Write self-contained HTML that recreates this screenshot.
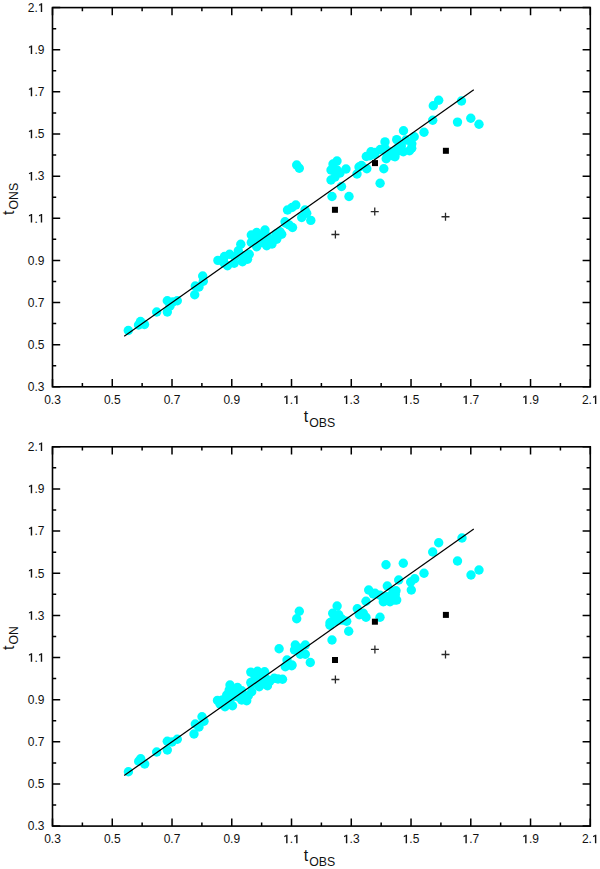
<!DOCTYPE html>
<html><head><meta charset="utf-8"><style>
html,body{margin:0;padding:0;background:#fff;}
svg{display:block;}
text{font-family:"Liberation Sans",sans-serif;font-size:12px;fill:#111;}
</style></head><body>
<svg width="600" height="869" viewBox="0 0 600 869">
<rect width="600" height="869" fill="#fff"/>
<g fill="#00ffff"><circle cx="128.3" cy="330.5" r="4.7"/><circle cx="138.5" cy="325.0" r="4.7"/><circle cx="140.5" cy="321.5" r="4.7"/><circle cx="144.5" cy="324.5" r="4.7"/><circle cx="156.7" cy="312.0" r="4.7"/><circle cx="167.3" cy="312.0" r="4.7"/><circle cx="167.3" cy="300.7" r="4.7"/><circle cx="177.3" cy="300.7" r="4.7"/><circle cx="172.7" cy="302.0" r="4.7"/><circle cx="170.0" cy="306.0" r="4.7"/><circle cx="194.7" cy="294.7" r="4.7"/><circle cx="195.3" cy="286.0" r="4.7"/><circle cx="202.7" cy="276.0" r="4.7"/><circle cx="203.3" cy="281.3" r="4.7"/><circle cx="199.0" cy="287.0" r="4.7"/><circle cx="217.9" cy="260.4" r="4.7"/><circle cx="229.6" cy="254.2" r="4.7"/><circle cx="240.8" cy="244.2" r="4.7"/><circle cx="238.3" cy="250.8" r="4.7"/><circle cx="249.2" cy="254.2" r="4.7"/><circle cx="247.5" cy="259.2" r="4.7"/><circle cx="227.5" cy="265.8" r="4.7"/><circle cx="234.2" cy="263.3" r="4.7"/><circle cx="242.5" cy="261.7" r="4.7"/><circle cx="223.3" cy="260.0" r="4.7"/><circle cx="235.0" cy="256.7" r="4.7"/><circle cx="243.3" cy="255.8" r="4.7"/><circle cx="224.0" cy="263.0" r="4.7"/><circle cx="224.5" cy="256.5" r="4.7"/><circle cx="251.3" cy="235.0" r="4.7"/><circle cx="251.3" cy="242.5" r="4.7"/><circle cx="256.7" cy="232.5" r="4.7"/><circle cx="265.0" cy="230.0" r="4.7"/><circle cx="256.7" cy="246.7" r="4.7"/><circle cx="266.7" cy="245.8" r="4.7"/><circle cx="270.0" cy="240.0" r="4.7"/><circle cx="276.7" cy="239.2" r="4.7"/><circle cx="281.7" cy="234.2" r="4.7"/><circle cx="256.7" cy="239.2" r="4.7"/><circle cx="261.7" cy="236.7" r="4.7"/><circle cx="261.7" cy="242.5" r="4.7"/><circle cx="267.5" cy="236.7" r="4.7"/><circle cx="276.0" cy="234.0" r="4.7"/><circle cx="276.7" cy="237.3" r="4.7"/><circle cx="272.0" cy="244.0" r="4.7"/><circle cx="280.0" cy="231.7" r="4.7"/><circle cx="285.0" cy="221.7" r="4.7"/><circle cx="292.5" cy="227.5" r="4.7"/><circle cx="289.2" cy="225.0" r="4.7"/><circle cx="287.5" cy="210.0" r="4.7"/><circle cx="295.8" cy="205.0" r="4.7"/><circle cx="292.0" cy="207.5" r="4.7"/><circle cx="305.0" cy="210.0" r="4.7"/><circle cx="301.7" cy="217.5" r="4.7"/><circle cx="306.7" cy="213.3" r="4.7"/><circle cx="310.8" cy="220.4" r="4.7"/><circle cx="285.8" cy="223.3" r="4.7"/><circle cx="296.7" cy="165.0" r="4.7"/><circle cx="299.3" cy="168.3" r="4.7"/><circle cx="337.0" cy="161.0" r="4.7"/><circle cx="333.0" cy="164.0" r="4.7"/><circle cx="331.0" cy="170.0" r="4.7"/><circle cx="337.0" cy="170.0" r="4.7"/><circle cx="346.0" cy="169.0" r="4.7"/><circle cx="340.0" cy="173.0" r="4.7"/><circle cx="331.0" cy="180.0" r="4.7"/><circle cx="335.0" cy="177.0" r="4.7"/><circle cx="341.5" cy="186.5" r="4.7"/><circle cx="332.0" cy="196.5" r="4.7"/><circle cx="349.0" cy="196.5" r="4.7"/><circle cx="359.0" cy="167.0" r="4.7"/><circle cx="357.0" cy="174.0" r="4.7"/><circle cx="361.5" cy="165.5" r="4.7"/><circle cx="366.8" cy="168.8" r="4.7"/><circle cx="366.3" cy="156.5" r="4.7"/><circle cx="371.0" cy="151.8" r="4.7"/><circle cx="374.5" cy="154.2" r="4.7"/><circle cx="380.3" cy="149.5" r="4.7"/><circle cx="385.0" cy="141.9" r="4.7"/><circle cx="385.0" cy="148.3" r="4.7"/><circle cx="383.8" cy="168.8" r="4.7"/><circle cx="380.1" cy="183.3" r="4.7"/><circle cx="386.2" cy="158.8" r="4.7"/><circle cx="393.2" cy="155.9" r="4.7"/><circle cx="396.7" cy="139.6" r="4.7"/><circle cx="399.0" cy="150.7" r="4.7"/><circle cx="403.5" cy="130.8" r="4.7"/><circle cx="409.5" cy="150.7" r="4.7"/><circle cx="411.8" cy="143.7" r="4.7"/><circle cx="414.2" cy="136.7" r="4.7"/><circle cx="401.3" cy="146.0" r="4.7"/><circle cx="398.0" cy="147.7" r="4.7"/><circle cx="394.0" cy="154.3" r="4.7"/><circle cx="391.7" cy="151.7" r="4.7"/><circle cx="400.0" cy="146.7" r="4.7"/><circle cx="395.0" cy="156.7" r="4.7"/><circle cx="386.7" cy="153.3" r="4.7"/><circle cx="403.3" cy="151.7" r="4.7"/><circle cx="411.7" cy="148.3" r="4.7"/><circle cx="370.0" cy="155.8" r="4.7"/><circle cx="375.0" cy="152.5" r="4.7"/><circle cx="406.0" cy="140.0" r="4.7"/><circle cx="424.0" cy="132.3" r="4.7"/><circle cx="432.7" cy="120.3" r="4.7"/><circle cx="433.3" cy="105.7" r="4.7"/><circle cx="438.7" cy="100.3" r="4.7"/><circle cx="461.5" cy="101.0" r="4.7"/><circle cx="457.5" cy="122.1" r="4.7"/><circle cx="470.8" cy="118.3" r="4.7"/><circle cx="479.0" cy="124.3" r="4.7"/></g>
<line x1="124.21" y1="336.24" x2="473.78" y2="89.76" stroke="#000" stroke-width="1.25"/>
<rect x="331.95" y="206.8" width="6" height="6" fill="#000"/>
<rect x="372" y="160.1" width="6" height="6" fill="#000"/>
<rect x="442.9" y="147.8" width="6" height="6" fill="#000"/>
<path d="M331.4 234.5H339.4M335.4 230.5V238.5" stroke="#2a2a2a" stroke-width="1.3"/>
<path d="M370.75 211.6H378.75M374.75 207.6V215.6" stroke="#2a2a2a" stroke-width="1.3"/>
<path d="M441.5 216.75H449.5M445.5 212.75V220.75" stroke="#2a2a2a" stroke-width="1.3"/>
<rect x="52.5" y="7.6" width="537.8" height="379.2" fill="none" stroke="#000" stroke-width="1.6"/>
<path d="M52.50 386.8V379.1M52.50 7.6V15.3M52.5 386.80H60.2M590.3 386.80H582.5999999999999M82.38 386.8V383.1M82.38 7.6V11.3M52.5 365.73H56.2M590.3 365.73H586.5999999999999M112.26 386.8V379.1M112.26 7.6V15.3M52.5 344.67H60.2M590.3 344.67H582.5999999999999M142.13 386.8V383.1M142.13 7.6V11.3M52.5 323.60H56.2M590.3 323.60H586.5999999999999M172.01 386.8V379.1M172.01 7.6V15.3M52.5 302.53H60.2M590.3 302.53H582.5999999999999M201.89 386.8V383.1M201.89 7.6V11.3M52.5 281.47H56.2M590.3 281.47H586.5999999999999M231.77 386.8V379.1M231.77 7.6V15.3M52.5 260.40H60.2M590.3 260.40H582.5999999999999M261.64 386.8V383.1M261.64 7.6V11.3M52.5 239.33H56.2M590.3 239.33H586.5999999999999M291.52 386.8V379.1M291.52 7.6V15.3M52.5 218.27H60.2M590.3 218.27H582.5999999999999M321.40 386.8V383.1M321.40 7.6V11.3M52.5 197.20H56.2M590.3 197.20H586.5999999999999M351.28 386.8V379.1M351.28 7.6V15.3M52.5 176.13H60.2M590.3 176.13H582.5999999999999M381.16 386.8V383.1M381.16 7.6V11.3M52.5 155.07H56.2M590.3 155.07H586.5999999999999M411.03 386.8V379.1M411.03 7.6V15.3M52.5 134.00H60.2M590.3 134.00H582.5999999999999M440.91 386.8V383.1M440.91 7.6V11.3M52.5 112.93H56.2M590.3 112.93H586.5999999999999M470.79 386.8V379.1M470.79 7.6V15.3M52.5 91.87H60.2M590.3 91.87H582.5999999999999M500.67 386.8V383.1M500.67 7.6V11.3M52.5 70.80H56.2M590.3 70.80H586.5999999999999M530.54 386.8V379.1M530.54 7.6V15.3M52.5 49.73H60.2M590.3 49.73H582.5999999999999M560.42 386.8V383.1M560.42 7.6V11.3M52.5 28.67H56.2M590.3 28.67H586.5999999999999M590.30 386.8V379.1M590.30 7.6V15.3M52.5 7.60H60.2M590.3 7.60H582.5999999999999" stroke="#000" stroke-width="1.5" fill="none"/>
<text x="52.50" y="404.00" text-anchor="middle">0.3</text>
<text x="44.50" y="391.10" text-anchor="end">0.3</text>
<text x="112.26" y="404.00" text-anchor="middle">0.5</text>
<text x="44.50" y="348.97" text-anchor="end">0.5</text>
<text x="172.01" y="404.00" text-anchor="middle">0.7</text>
<text x="44.50" y="306.83" text-anchor="end">0.7</text>
<text x="231.77" y="404.00" text-anchor="middle">0.9</text>
<text x="44.50" y="264.70" text-anchor="end">0.9</text>
<text x="291.52" y="404.00" text-anchor="middle"><tspan style="fill:transparent">1</tspan>.<tspan style="fill:transparent">1</tspan></text>
<text x="44.50" y="222.57" text-anchor="end"><tspan style="fill:transparent">1</tspan>.<tspan style="fill:transparent">1</tspan></text>
<text x="351.28" y="404.00" text-anchor="middle"><tspan style="fill:transparent">1</tspan>.3</text>
<text x="44.50" y="180.43" text-anchor="end"><tspan style="fill:transparent">1</tspan>.3</text>
<text x="411.03" y="404.00" text-anchor="middle"><tspan style="fill:transparent">1</tspan>.5</text>
<text x="44.50" y="138.30" text-anchor="end"><tspan style="fill:transparent">1</tspan>.5</text>
<text x="470.79" y="404.00" text-anchor="middle"><tspan style="fill:transparent">1</tspan>.7</text>
<text x="44.50" y="96.17" text-anchor="end"><tspan style="fill:transparent">1</tspan>.7</text>
<text x="530.54" y="404.00" text-anchor="middle"><tspan style="fill:transparent">1</tspan>.9</text>
<text x="44.50" y="54.03" text-anchor="end"><tspan style="fill:transparent">1</tspan>.9</text>
<text x="590.30" y="404.00" text-anchor="middle">2.<tspan style="fill:transparent">1</tspan></text>
<text x="44.50" y="11.90" text-anchor="end">2.<tspan style="fill:transparent">1</tspan></text>
<text x="303.8" y="422.10" style="font-size:16px">t<tspan style="font-size:12.3px" dx="1" dy="4.6">OBS</tspan></text>
<text transform="translate(13.7,214.90) rotate(-90)" style="font-size:16px">t<tspan style="font-size:12.3px" dx="1" dy="4.6">ONS</tspan></text>
<g fill="#00ffff"><circle cx="128.4" cy="771.7" r="4.7"/><circle cx="138.7" cy="761.3" r="4.7"/><circle cx="140.7" cy="758.7" r="4.7"/><circle cx="144.7" cy="764.0" r="4.7"/><circle cx="156.7" cy="752.0" r="4.7"/><circle cx="167.3" cy="741.3" r="4.7"/><circle cx="167.3" cy="750.0" r="4.7"/><circle cx="177.3" cy="739.3" r="4.7"/><circle cx="172.0" cy="742.0" r="4.7"/><circle cx="194.0" cy="734.0" r="4.7"/><circle cx="195.3" cy="724.0" r="4.7"/><circle cx="202.0" cy="716.7" r="4.7"/><circle cx="204.0" cy="721.3" r="4.7"/><circle cx="199.0" cy="727.0" r="4.7"/><circle cx="217.5" cy="700.4" r="4.7"/><circle cx="230.0" cy="685.0" r="4.7"/><circle cx="229.2" cy="690.0" r="4.7"/><circle cx="237.5" cy="687.5" r="4.7"/><circle cx="241.7" cy="690.8" r="4.7"/><circle cx="248.3" cy="695.8" r="4.7"/><circle cx="246.7" cy="700.8" r="4.7"/><circle cx="225.0" cy="706.7" r="4.7"/><circle cx="232.5" cy="705.8" r="4.7"/><circle cx="222.5" cy="700.0" r="4.7"/><circle cx="230.8" cy="698.3" r="4.7"/><circle cx="237.5" cy="696.7" r="4.7"/><circle cx="226.7" cy="695.0" r="4.7"/><circle cx="241.7" cy="700.0" r="4.7"/><circle cx="234.0" cy="692.0" r="4.7"/><circle cx="251.7" cy="684.2" r="4.7"/><circle cx="256.7" cy="681.7" r="4.7"/><circle cx="250.8" cy="672.1" r="4.7"/><circle cx="257.5" cy="671.3" r="4.7"/><circle cx="264.6" cy="671.7" r="4.7"/><circle cx="250.8" cy="682.5" r="4.7"/><circle cx="257.5" cy="681.7" r="4.7"/><circle cx="267.5" cy="685.8" r="4.7"/><circle cx="274.2" cy="678.3" r="4.7"/><circle cx="282.5" cy="679.2" r="4.7"/><circle cx="266.7" cy="679.2" r="4.7"/><circle cx="259.2" cy="686.7" r="4.7"/><circle cx="251.7" cy="691.7" r="4.7"/><circle cx="262.0" cy="677.0" r="4.7"/><circle cx="270.0" cy="681.0" r="4.7"/><circle cx="278.0" cy="679.0" r="4.7"/><circle cx="255.0" cy="676.5" r="4.7"/><circle cx="262.0" cy="684.0" r="4.7"/><circle cx="220.0" cy="704.0" r="4.7"/><circle cx="238.5" cy="695.0" r="4.7"/><circle cx="245.0" cy="696.0" r="4.7"/><circle cx="228.0" cy="702.0" r="4.7"/><circle cx="286.7" cy="665.0" r="4.7"/><circle cx="291.7" cy="665.8" r="4.7"/><circle cx="279.1" cy="648.75" r="4.7"/><circle cx="295.3" cy="645.0" r="4.7"/><circle cx="294.5" cy="650.0" r="4.7"/><circle cx="305.3" cy="645.0" r="4.7"/><circle cx="305.3" cy="654.2" r="4.7"/><circle cx="300.3" cy="654.2" r="4.7"/><circle cx="299.5" cy="648.3" r="4.7"/><circle cx="310.3" cy="662.5" r="4.7"/><circle cx="287.0" cy="660.0" r="4.7"/><circle cx="292.0" cy="665.0" r="4.7"/><circle cx="285.3" cy="666.7" r="4.7"/><circle cx="299.3" cy="611.3" r="4.7"/><circle cx="296.7" cy="618.7" r="4.7"/><circle cx="337.1" cy="606.0" r="4.7"/><circle cx="332.7" cy="613.3" r="4.7"/><circle cx="336.5" cy="617.0" r="4.7"/><circle cx="341.0" cy="618.5" r="4.7"/><circle cx="362.0" cy="614.0" r="4.7"/><circle cx="338.7" cy="614.7" r="4.7"/><circle cx="330.0" cy="622.7" r="4.7"/><circle cx="336.0" cy="621.3" r="4.7"/><circle cx="342.7" cy="620.0" r="4.7"/><circle cx="346.7" cy="621.3" r="4.7"/><circle cx="330.0" cy="625.3" r="4.7"/><circle cx="348.7" cy="631.3" r="4.7"/><circle cx="332.0" cy="640.0" r="4.7"/><circle cx="335.0" cy="616.7" r="4.7"/><circle cx="340.0" cy="620.0" r="4.7"/><circle cx="331.7" cy="621.7" r="4.7"/><circle cx="357.3" cy="608.7" r="4.7"/><circle cx="359.3" cy="614.7" r="4.7"/><circle cx="363.3" cy="613.3" r="4.7"/><circle cx="366.0" cy="617.3" r="4.7"/><circle cx="366.0" cy="601.3" r="4.7"/><circle cx="368.7" cy="590.0" r="4.7"/><circle cx="373.3" cy="594.0" r="4.7"/><circle cx="380.0" cy="617.3" r="4.7"/><circle cx="380.0" cy="595.3" r="4.7"/><circle cx="384.0" cy="601.3" r="4.7"/><circle cx="387.3" cy="586.0" r="4.7"/><circle cx="390.7" cy="596.0" r="4.7"/><circle cx="396.0" cy="590.7" r="4.7"/><circle cx="394.7" cy="600.0" r="4.7"/><circle cx="375.0" cy="593.3" r="4.7"/><circle cx="386.7" cy="596.7" r="4.7"/><circle cx="391.7" cy="595.0" r="4.7"/><circle cx="396.7" cy="600.0" r="4.7"/><circle cx="383.3" cy="601.7" r="4.7"/><circle cx="390.0" cy="601.7" r="4.7"/><circle cx="393.3" cy="591.7" r="4.7"/><circle cx="398.7" cy="580.0" r="4.7"/><circle cx="386.0" cy="564.7" r="4.7"/><circle cx="403.3" cy="563.3" r="4.7"/><circle cx="410.7" cy="582.0" r="4.7"/><circle cx="414.7" cy="578.7" r="4.7"/><circle cx="411.3" cy="590.0" r="4.7"/><circle cx="395.3" cy="594.7" r="4.7"/><circle cx="424.0" cy="573.3" r="4.7"/><circle cx="432.7" cy="552.0" r="4.7"/><circle cx="438.7" cy="542.7" r="4.7"/><circle cx="462.0" cy="538.0" r="4.7"/><circle cx="457.5" cy="561.0" r="4.7"/><circle cx="471.0" cy="575.0" r="4.7"/><circle cx="479.0" cy="570.0" r="4.7"/></g>
<line x1="124.21" y1="775.53" x2="473.78" y2="528.98" stroke="#000" stroke-width="1.25"/>
<rect x="332" y="657" width="6" height="6" fill="#000"/>
<rect x="371.9" y="618.7" width="6" height="6" fill="#000"/>
<rect x="442.9" y="611.9" width="6" height="6" fill="#000"/>
<path d="M331.4 679.5H339.4M335.4 675.5V683.5" stroke="#2a2a2a" stroke-width="1.3"/>
<path d="M370.9 649.45H378.9M374.9 645.45V653.45" stroke="#2a2a2a" stroke-width="1.3"/>
<path d="M441.5 654.5H449.5M445.5 650.5V658.5" stroke="#2a2a2a" stroke-width="1.3"/>
<rect x="52.5" y="446.8" width="537.8" height="379.3" fill="none" stroke="#000" stroke-width="1.6"/>
<path d="M52.50 826.1V818.4M52.50 446.8V454.5M52.5 826.10H60.2M590.3 826.10H582.5999999999999M82.38 826.1V822.4M82.38 446.8V450.5M52.5 805.03H56.2M590.3 805.03H586.5999999999999M112.26 826.1V818.4M112.26 446.8V454.5M52.5 783.96H60.2M590.3 783.96H582.5999999999999M142.13 826.1V822.4M142.13 446.8V450.5M52.5 762.88H56.2M590.3 762.88H586.5999999999999M172.01 826.1V818.4M172.01 446.8V454.5M52.5 741.81H60.2M590.3 741.81H582.5999999999999M201.89 826.1V822.4M201.89 446.8V450.5M52.5 720.74H56.2M590.3 720.74H586.5999999999999M231.77 826.1V818.4M231.77 446.8V454.5M52.5 699.67H60.2M590.3 699.67H582.5999999999999M261.64 826.1V822.4M261.64 446.8V450.5M52.5 678.59H56.2M590.3 678.59H586.5999999999999M291.52 826.1V818.4M291.52 446.8V454.5M52.5 657.52H60.2M590.3 657.52H582.5999999999999M321.40 826.1V822.4M321.40 446.8V450.5M52.5 636.45H56.2M590.3 636.45H586.5999999999999M351.28 826.1V818.4M351.28 446.8V454.5M52.5 615.38H60.2M590.3 615.38H582.5999999999999M381.16 826.1V822.4M381.16 446.8V450.5M52.5 594.31H56.2M590.3 594.31H586.5999999999999M411.03 826.1V818.4M411.03 446.8V454.5M52.5 573.23H60.2M590.3 573.23H582.5999999999999M440.91 826.1V822.4M440.91 446.8V450.5M52.5 552.16H56.2M590.3 552.16H586.5999999999999M470.79 826.1V818.4M470.79 446.8V454.5M52.5 531.09H60.2M590.3 531.09H582.5999999999999M500.67 826.1V822.4M500.67 446.8V450.5M52.5 510.02H56.2M590.3 510.02H586.5999999999999M530.54 826.1V818.4M530.54 446.8V454.5M52.5 488.94H60.2M590.3 488.94H582.5999999999999M560.42 826.1V822.4M560.42 446.8V450.5M52.5 467.87H56.2M590.3 467.87H586.5999999999999M590.30 826.1V818.4M590.30 446.8V454.5M52.5 446.80H60.2M590.3 446.80H582.5999999999999" stroke="#000" stroke-width="1.5" fill="none"/>
<text x="52.50" y="843.30" text-anchor="middle">0.3</text>
<text x="44.50" y="830.40" text-anchor="end">0.3</text>
<text x="112.26" y="843.30" text-anchor="middle">0.5</text>
<text x="44.50" y="788.26" text-anchor="end">0.5</text>
<text x="172.01" y="843.30" text-anchor="middle">0.7</text>
<text x="44.50" y="746.11" text-anchor="end">0.7</text>
<text x="231.77" y="843.30" text-anchor="middle">0.9</text>
<text x="44.50" y="703.97" text-anchor="end">0.9</text>
<text x="291.52" y="843.30" text-anchor="middle"><tspan style="fill:transparent">1</tspan>.<tspan style="fill:transparent">1</tspan></text>
<text x="44.50" y="661.82" text-anchor="end"><tspan style="fill:transparent">1</tspan>.<tspan style="fill:transparent">1</tspan></text>
<text x="351.28" y="843.30" text-anchor="middle"><tspan style="fill:transparent">1</tspan>.3</text>
<text x="44.50" y="619.68" text-anchor="end"><tspan style="fill:transparent">1</tspan>.3</text>
<text x="411.03" y="843.30" text-anchor="middle"><tspan style="fill:transparent">1</tspan>.5</text>
<text x="44.50" y="577.53" text-anchor="end"><tspan style="fill:transparent">1</tspan>.5</text>
<text x="470.79" y="843.30" text-anchor="middle"><tspan style="fill:transparent">1</tspan>.7</text>
<text x="44.50" y="535.39" text-anchor="end"><tspan style="fill:transparent">1</tspan>.7</text>
<text x="530.54" y="843.30" text-anchor="middle"><tspan style="fill:transparent">1</tspan>.9</text>
<text x="44.50" y="493.24" text-anchor="end"><tspan style="fill:transparent">1</tspan>.9</text>
<text x="590.30" y="843.30" text-anchor="middle">2.<tspan style="fill:transparent">1</tspan></text>
<text x="44.50" y="451.10" text-anchor="end">2.<tspan style="fill:transparent">1</tspan></text>
<text x="303.8" y="861.40" style="font-size:16px">t<tspan style="font-size:12.3px" dx="1" dy="4.6">OBS</tspan></text>
<text transform="translate(13.7,649.90) rotate(-90)" style="font-size:16px">t<tspan style="font-size:12.3px" dx="1" dy="4.6">ON</tspan></text>
<path d="M286.13 404.00V395.45H287.53V404.00ZM286.28 395.45L284.28 396.75L284.28 397.90L286.28 397.00ZM296.14 404.00V395.45H297.54V404.00ZM296.29 395.45L294.29 396.75L294.29 397.90L296.29 397.00ZM30.77 222.57V214.02H32.17V222.57ZM30.92 214.02L28.92 215.32L28.92 216.47L30.92 215.57ZM40.78 222.57V214.02H42.18V222.57ZM40.93 214.02L38.93 215.32L38.93 216.47L40.93 215.57ZM345.89 404.00V395.45H347.29V404.00ZM346.04 395.45L344.04 396.75L344.04 397.90L346.04 397.00ZM30.77 180.43V171.88H32.17V180.43ZM30.92 171.88L28.92 173.18L28.92 174.33L30.92 173.43ZM405.64 404.00V395.45H407.04V404.00ZM405.79 395.45L403.79 396.75L403.79 397.90L405.79 397.00ZM30.77 138.30V129.75H32.17V138.30ZM30.92 129.75L28.92 131.05L28.92 132.20L30.92 131.30ZM465.40 404.00V395.45H466.80V404.00ZM465.55 395.45L463.55 396.75L463.55 397.90L465.55 397.00ZM30.77 96.17V87.62H32.17V96.17ZM30.92 87.62L28.92 88.92L28.92 90.07L30.92 89.17ZM525.15 404.00V395.45H526.55V404.00ZM525.30 395.45L523.30 396.75L523.30 397.90L525.30 397.00ZM30.77 54.03V45.48H32.17V54.03ZM30.92 45.48L28.92 46.78L28.92 47.93L30.92 47.03ZM594.92 404.00V395.45H596.32V404.00ZM595.07 395.45L593.07 396.75L593.07 397.90L595.07 397.00ZM40.78 11.90V3.35H42.18V11.90ZM40.93 3.35L38.93 4.65L38.93 5.80L40.93 4.90ZM286.13 843.30V834.75H287.53V843.30ZM286.28 834.75L284.28 836.05L284.28 837.20L286.28 836.30ZM296.14 843.30V834.75H297.54V843.30ZM296.29 834.75L294.29 836.05L294.29 837.20L296.29 836.30ZM30.77 661.82V653.27H32.17V661.82ZM30.92 653.27L28.92 654.57L28.92 655.72L30.92 654.82ZM40.78 661.82V653.27H42.18V661.82ZM40.93 653.27L38.93 654.57L38.93 655.72L40.93 654.82ZM345.89 843.30V834.75H347.29V843.30ZM346.04 834.75L344.04 836.05L344.04 837.20L346.04 836.30ZM30.77 619.68V611.13H32.17V619.68ZM30.92 611.13L28.92 612.43L28.92 613.58L30.92 612.68ZM405.64 843.30V834.75H407.04V843.30ZM405.79 834.75L403.79 836.05L403.79 837.20L405.79 836.30ZM30.77 577.53V568.98H32.17V577.53ZM30.92 568.98L28.92 570.28L28.92 571.43L30.92 570.53ZM465.40 843.30V834.75H466.80V843.30ZM465.55 834.75L463.55 836.05L463.55 837.20L465.55 836.30ZM30.77 535.39V526.84H32.17V535.39ZM30.92 526.84L28.92 528.14L28.92 529.29L30.92 528.39ZM525.15 843.30V834.75H526.55V843.30ZM525.30 834.75L523.30 836.05L523.30 837.20L525.30 836.30ZM30.77 493.24V484.69H32.17V493.24ZM30.92 484.69L28.92 485.99L28.92 487.14L30.92 486.24ZM594.92 843.30V834.75H596.32V843.30ZM595.07 834.75L593.07 836.05L593.07 837.20L595.07 836.30ZM40.78 451.10V442.55H42.18V451.10ZM40.93 442.55L38.93 443.85L38.93 445.00L40.93 444.10Z" fill="#111"/>
</svg>
</body></html>
